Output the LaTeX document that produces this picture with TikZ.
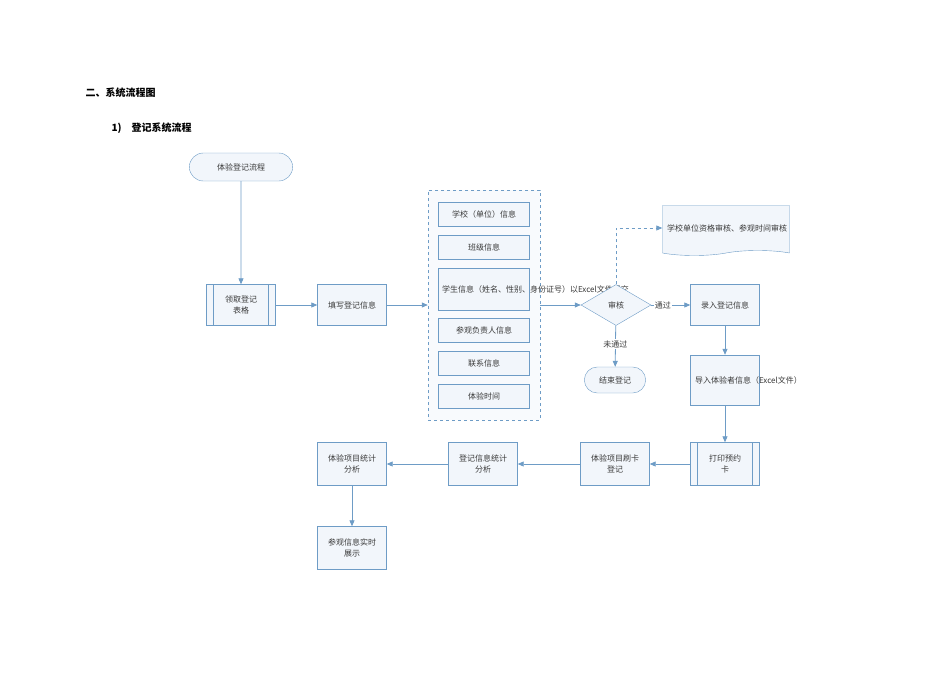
\documentclass[tikz,border=0pt]{standalone}
\usepackage{fontspec}
\setmainfont{Noto Sans CJK SC}
\usetikzlibrary{shapes.geometric,shapes.misc,shapes.symbols,arrows.meta,positioning}
\definecolor{flowline}{HTML}{6E9CC6}
\definecolor{flowfill}{HTML}{F2F6FB}
\definecolor{flowtext}{HTML}{3A3A3A}
\tikzset{
  box/.style={draw=flowline, fill=flowfill, text=flowtext, minimum width=69pt, minimum height=41pt,
    text width=60pt, align=center, font=\fontsize{8}{11}\selectfont, inner sep=1pt},
  item/.style={box, minimum width=91pt, minimum height=24pt, text width=84pt},
  term/.style={draw=flowline, fill=flowfill, text=flowtext, rounded rectangle, minimum width=110pt,
    minimum height=28pt, font=\fontsize{8}{11}\selectfont},
  proc/.style={box, path picture={\draw[flowline] ([xshift=7pt]path picture bounding box.north west) -- ([xshift=7pt]path picture bounding box.south west)
    ([xshift=-7pt]path picture bounding box.north east) -- ([xshift=-7pt]path picture bounding box.south east);}},
  flow/.style={draw=flowline, line width=0.8pt, -{Triangle[length=6pt,width=5pt]}},
  lbl/.style={text=flowtext, font=\fontsize{8}{11}\selectfont, fill=white, inner sep=1pt}
}
\begin{document}
\begin{tikzpicture}[x=1pt, y=-1pt]
  \useasboundingbox (0,0) rectangle (950,672);

  % Headings
  \node[anchor=west, font=\bfseries\fontsize{10}{12}\selectfont] (h1) at (82,93) {二、系统流程图};
  \node[anchor=west, font=\bfseries\fontsize{10}{12}\selectfont] (h2) at (108,128) {1)\quad 登记系统流程};

  % Container
  \node[draw=flowline, dashed, fill=flowfill!50, minimum width=112pt, minimum height=230pt] (form) at (484,305) {};
  \foreach \t/\y/\h [count=\n] in {
    学校（单位）信息/214/24,
    班级信息/247/24,
    学生信息（姓名、性别、身份证号）以Excel文件提交/289/42,
    参观负责人信息/330/24,
    联系信息/363/24,
    体验时间/396/24} {
    \node[item, minimum height=\h pt] (it\n) at (484,\y) {\t};
  }

  % Nodes
  \node[term] (start) at (241,167) {体验登记流程};
  \node[proc] (get) at (241,305) {领取登记\\表格};
  \node[box] (fill) at (352,305) {填写登记信息};
  \node[diamond, draw=flowline, fill=flowfill, text=flowtext, aspect=1.7, minimum width=70pt, minimum height=41pt,
    inner sep=0pt, font=\fontsize{8}{11}\selectfont] (check) at (616,305) {审核};
  \node[draw=flowline, fill=flowfill, text=flowtext, tape, tape bend top=none, minimum width=127pt, minimum height=50pt,
    text width=118pt, align=left, font=\fontsize{8}{11}\selectfont] (doc) at (726,228) {学校单位资格审核、参观时间审核\\[8pt]};
  \node[box] (enter) at (725,305) {录入登记信息};
  \node[term, minimum width=68pt, minimum height=26pt] (end) at (615,380) {结束登记};
  \node[box, minimum height=50pt] (import) at (725,380) {导入体验者信息（Excel文件）};
  \node[proc, minimum height=43pt] (print) at (725,464) {打印预约\\卡};
  \node[box, minimum height=43pt] (swipe) at (615,464) {体验项目刷卡\\登记};
  \node[box, minimum height=43pt] (stat) at (483,464) {登记信息统计\\分析};
  \node[box, minimum height=43pt] (item) at (352,464) {体验项目统计\\分析};
  \node[box, minimum height=43pt] (show) at (352,548) {参观信息实时\\展示};
  \coordinate (corner) at (616,228);

  % Connectors
  \draw[flow] (start) -- (get);
  \draw[flow] (get) -- (fill);
  \draw[flow] (fill) -- (form);
  \draw[flow] (form) -- (check);
  \draw[flow, dashed] (check.north) -- (corner) -- (doc.west);
  \draw[flow] (check) -- node[lbl, pos=0.3] {通过} (enter);
  \draw[flow] (check) -- node[lbl, pos=0.45] {未通过} (end);
  \draw[flow] (enter) -- (import);
  \draw[flow] (import) -- (print);
  \draw[flow] (print) -- (swipe);
  \draw[flow] (swipe) -- (stat);
  \draw[flow] (stat) -- (item);
  \draw[flow] (item) -- (show);
\end{tikzpicture}
\end{document}
